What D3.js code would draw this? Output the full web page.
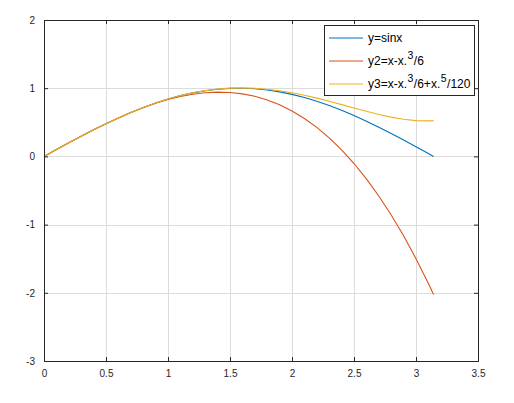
<!DOCTYPE html>
<html><head><meta charset="utf-8">
<script src="https://cdn.jsdelivr.net/npm/d3@7"></script>
<style>body{margin:0;background:#fff}svg{display:block}</style>
</head><body>
<script>
const xVals = [0,0.1,0.2,0.3,0.4,0.5,0.6,0.7,0.8,0.9,1.0,1.1,1.2,1.3,1.4,1.5,1.6,1.7,1.8,1.9,2.0,2.1,2.2,2.3,2.4,2.5,2.6,2.7,2.8,2.9,3.0,3.1,3.1416];
const ySin = [0,0.0998,0.1987,0.2955,0.3894,0.4794,0.5646,0.6442,0.7174,0.7833,0.8415,0.8912,0.9320,0.9636,0.9854,0.9975,0.9996,0.9917,0.9738,0.9463,0.9093,0.8632,0.8085,0.7457,0.6755,0.5985,0.5155,0.4274,0.3350,0.2392,0.1411,0.0416,0];
const y2 = [0,0.0998,0.1987,0.2955,0.3893,0.4792,0.5640,0.6428,0.7147,0.7785,0.8333,0.8782,0.9120,0.9338,0.9427,0.9375,0.9173,0.8812,0.8280,0.7568,0.6667,0.5565,0.4253,0.2722,0.0960,-0.1042,-0.3293,-0.5805,-0.8587,-1.1648,-1.5000,-1.8652,-2.0261];
const y3 = [0,0.0998,0.1987,0.2955,0.3894,0.4794,0.5647,0.6442,0.7174,0.7834,0.8417,0.8916,0.9327,0.9648,0.9875,1.0008,1.0047,0.9995,0.9855,0.9632,0.9333,0.8968,0.8548,0.8085,0.7596,0.7096,0.6608,0.6152,0.5755,0.5444,0.5250,0.5206,0.5240];
const xTicks = [0,0.5,1,1.5,2,2.5,3,3.5];
const yTicks = [-3,-2,-1,0,1,2];
const seriesNames = ["sin","y2","y3"];
const colors = ["#0072BD","#D95319","#EDB120"];

const W=514,H=403;
const svg=d3.select("body").append("svg").attr("width",W).attr("height",H);
const L=44,R=478,T=20,B=361;
const x=d3.scaleLinear().domain([0,3.5]).range([L,R]);
const y=d3.scaleLinear().domain([-3,2]).range([B,T]);
const axisCol="#262626";
const font="'Liberation Sans', Arial, Helvetica, sans-serif";
const fmt=d=>String(d);

// grid
const g=svg.append("g");
g.selectAll(".gx").data(xTicks).enter().append("line")
 .attr("x1",d=>Math.round(x(d))+0.5).attr("x2",d=>Math.round(x(d))+0.5).attr("y1",T).attr("y2",B)
 .attr("stroke","#dcdcdc").attr("stroke-width",1);
g.selectAll(".gy").data(yTicks).enter().append("line")
 .attr("y1",d=>Math.round(y(d))+0.5).attr("y2",d=>Math.round(y(d))+0.5).attr("x1",L).attr("x2",R)
 .attr("stroke","#dcdcdc").attr("stroke-width",1);

// lines
const series=[ySin,y2,y3];
const line=d3.line().x((d,i)=>x(xVals[i])).y(d=>y(d));
series.forEach((s,i)=>{
  svg.append("path").datum(s).attr("d",line).attr("fill","none")
   .attr("stroke",colors[i]).attr("stroke-width",1.1);
});

// axes (box, inward ticks)
const axB=d3.axisBottom(x).tickValues(xTicks).tickSize(-4).tickPadding(9).tickFormat(fmt);
const axT=d3.axisTop(x).tickValues(xTicks).tickSize(-4).tickFormat("");
const axL=d3.axisLeft(y).tickValues(yTicks).tickSize(-4).tickPadding(9).tickFormat(fmt);
const axR=d3.axisRight(y).tickValues(yTicks).tickSize(-4).tickFormat("");
function style(sel){
  sel.selectAll("path").attr("stroke",axisCol);
  sel.selectAll("line").attr("stroke",axisCol);
  sel.selectAll("text").attr("fill",axisCol).style("font-family",font).style("font-size","10px");
}
svg.append("g").attr("transform",`translate(0,${B})`).call(axB).call(style);
svg.append("g").attr("transform",`translate(0,${T})`).call(axT).call(style);
svg.append("g").attr("transform",`translate(${L},0)`).call(axL).call(style);
svg.append("g").attr("transform",`translate(${R},0)`).call(axR).call(style);
svg.selectAll(".domain").attr("stroke",axisCol);

// legend
const lg=svg.append("g");
lg.append("rect").attr("x",324.5).attr("y",25.5).attr("width",150).attr("height",70)
 .attr("fill","#fff").attr("stroke",axisCol).attr("stroke-width",1);
const legendY=[38,61,84];
const labels=[
  [["y=sinx",false]],
  [["y2=x-x.",false],["3",true],["/6",false]],
  [["y3=x-x.",false],["3",true],["/6+x.",false],["5",true],["/120",false]]
];
labels.forEach((parts,i)=>{
  lg.append("line").attr("x1",329).attr("x2",363).attr("y1",legendY[i]).attr("y2",legendY[i])
   .attr("stroke",colors[i]).attr("stroke-width",1.1);
  const t=lg.append("text").attr("x",368).attr("y",legendY[i]+4).attr("fill","#000")
   .style("font-family",font).style("font-size","12px");
  let prevSup=false;
  parts.forEach(p=>{
    if(p[1]){ t.append("tspan").attr("dy",-6).attr("dx",0.5).style("font-size","10.5px").text(p[0]); prevSup=true; }
    else { t.append("tspan").attr("dy",prevSup?6:0).attr("dx",prevSup?0.5:0).text(p[0]); prevSup=false; }
  });
});
</script>
</body></html>
